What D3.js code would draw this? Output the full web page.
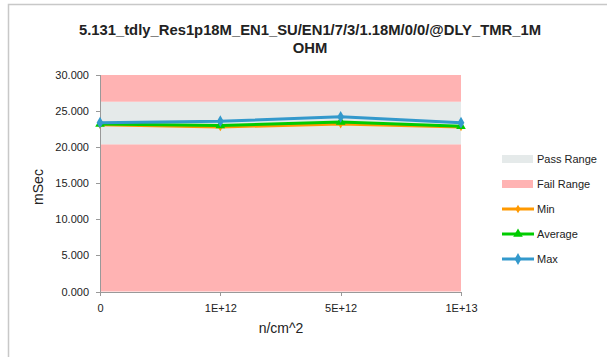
<!DOCTYPE html>
<html>
<head>
<meta charset="utf-8">
<script src="https://d3js.org/d3.v7.min.js"></script>
<style>
body { margin: 0; background: #fff; }
text { font-family: "Liberation Sans", Arial, sans-serif; fill: #222; }
.axis path, .axis line { stroke: #999; fill: none; shape-rendering: crispEdges; }
</style>
</head>
<body>
<script>
var categories = ["0", "1E+12", "5E+12", "1E+13"]
var minVals = [23.1, 22.8, 23.2, 22.8]
var avgVals = [23.2, 23.0, 23.5, 22.9]
var maxVals = [23.4, 23.6, 24.2, 23.4]
var passLow = 20.4, passHigh = 26.3
var yTicks = [0, 5, 10, 15, 20, 25, 30]

var W = 607, H = 357
var svg = d3.select("body").append("svg").attr("width", W).attr("height", H)

// chart frame
svg.append("path").attr("d", "M8.5," + H + "V4.5H" + W)
  .attr("stroke", "#c8c8c8").attr("stroke-width", 1.5).attr("fill", "none")

var x = d3.scalePoint().domain(categories).range([100, 461])
var y = d3.scaleLinear().domain([0, 30]).range([291.5, 75])

// range bands
var bands = [
  { lo: 0, hi: passLow, color: "#ffb3b3" },
  { lo: passLow, hi: passHigh, color: "#e5eaea" },
  { lo: passHigh, hi: 30, color: "#ffb3b3" }
]
svg.selectAll("rect.band").data(bands).enter().append("rect")
  .attr("x", x(categories[0])).attr("width", x(categories[3]) - x(categories[0]))
  .attr("y", function(d) { return y(d.hi) })
  .attr("height", function(d) { return y(d.lo) - y(d.hi) })
  .attr("fill", function(d) { return d.color })

svg.append("g").attr("class", "axis").attr("transform", "translate(100,0)")
  .call(d3.axisLeft(y).tickValues(yTicks).tickSize(4).tickFormat(d3.format(".3f")))
  .call(function(g) { g.selectAll("text").attr("font-size", 11).attr("x", -11) })

svg.append("g").attr("class", "axis").attr("transform", "translate(0,291.5)")
  .call(d3.axisBottom(x).tickSize(4).tickSizeOuter(0))
  .call(function(g) { g.selectAll("text").attr("font-size", 11).attr("y", 13) })

var series = [
  { name: "Min", vals: minVals, color: "#ff9900", shape: d3.symbolDiamond, size: 22 },
  { name: "Average", vals: avgVals, color: "#00cc00", shape: d3.symbolTriangle, size: 40 },
  { name: "Max", vals: maxVals, color: "#3399cc", shape: d3.symbolDiamond, size: 40 }
]
var line = d3.line().x(function(d, i) { return x(categories[i]) }).y(function(d) { return y(d) })

series.forEach(function(s) {
  svg.append("path").attr("d", line(s.vals)).attr("fill", "none")
    .attr("stroke", s.color).attr("stroke-width", 3)
  svg.selectAll(null).data(s.vals).enter().append("path")
    .attr("d", d3.symbol().type(s.shape).size(s.size))
    .attr("transform", function(d, i) { return "translate(" + x(categories[i]) + "," + y(d) + ")" })
    .attr("fill", s.color)
})

// titles
svg.append("text").attr("x", 310).attr("y", 35).attr("text-anchor", "middle")
  .attr("font-size", 14.8).attr("font-weight", "bold")
  .text("5.131_tdly_Res1p18M_EN1_SU/EN1/7/3/1.18M/0/0/@DLY_TMR_1M")
svg.append("text").attr("x", 310).attr("y", 53).attr("text-anchor", "middle")
  .attr("font-size", 14.8).attr("font-weight", "bold").text("OHM")

svg.append("text").attr("transform", "translate(43,187) rotate(-90)")
  .attr("text-anchor", "middle").attr("font-size", 14).text("mSec")
svg.append("text").attr("x", 281).attr("y", 333).attr("text-anchor", "middle")
  .attr("font-size", 14).text("n/cm^2")

// legend
var legend = [
  { name: "Pass Range", type: "rect", color: "#e5eaea" },
  { name: "Fail Range", type: "rect", color: "#ffb3b3" }
].concat(series.map(function(s) { return { name: s.name, type: "line", color: s.color, s: s } }))

var lg = svg.selectAll("g.leg").data(legend).enter().append("g")
  .attr("transform", function(d, i) { return "translate(502," + (159 + i * 25) + ")" })
lg.each(function(d) {
  var g = d3.select(this)
  if (d.type === "rect") {
    g.append("rect").attr("x", 0).attr("y", -4).attr("width", 31).attr("height", 8).attr("fill", d.color)
  } else {
    g.append("line").attr("x1", 0).attr("x2", 32).attr("stroke", d.color).attr("stroke-width", 3)
    g.append("path").attr("d", d3.symbol().type(d.s.shape).size(d.s.size)).attr("transform", "translate(16,0)")
      .attr("fill", d.color)
  }
  g.append("text").attr("x", 35).attr("y", 4).attr("font-size", 11).text(d.name)
})
</script>
</body>
</html>
